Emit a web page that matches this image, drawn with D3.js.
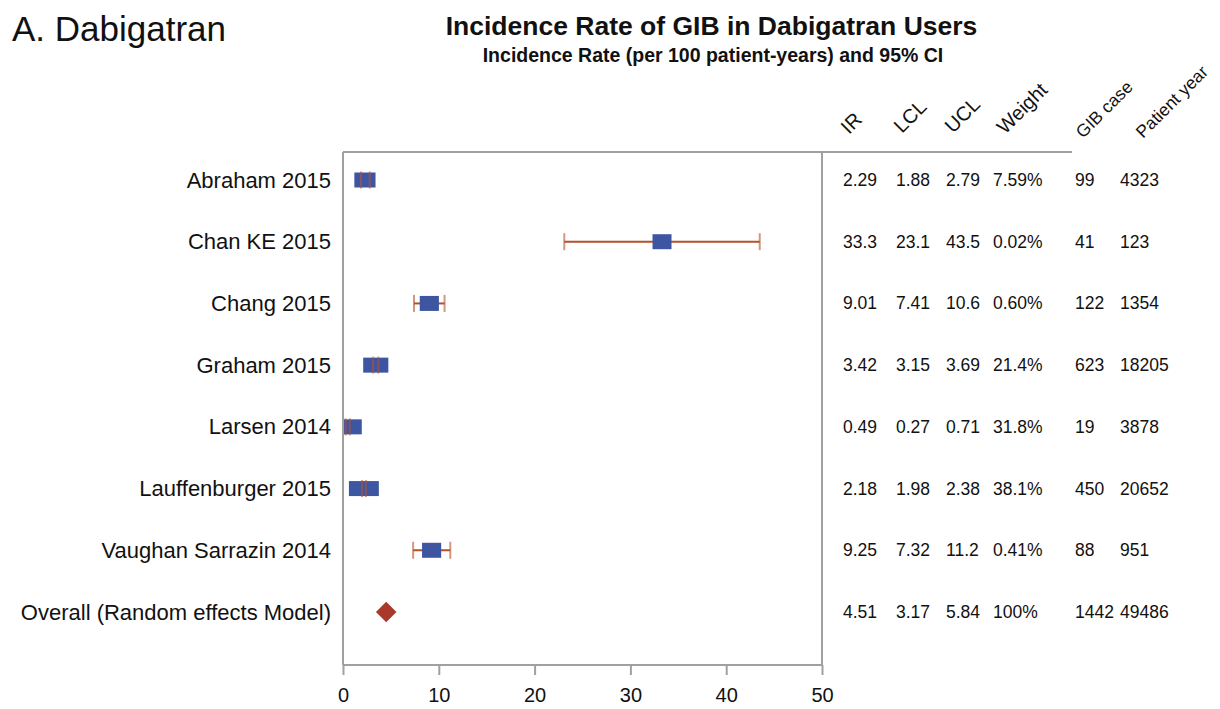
<!DOCTYPE html>
<html>
<head>
<meta charset="utf-8">
<script src="https://cdn.jsdelivr.net/npm/d3@7"></script>
<style>
  body { margin: 0; background: #fff; }
  text { font-family: "Liberation Sans", Arial, sans-serif; fill: #111; }
</style>
</head>
<body>
<svg width="1220" height="709"></svg>
<script>
// data
const studies = ['Abraham 2015', 'Chan KE 2015', 'Chang 2015', 'Graham 2015', 'Larsen 2014',
                 'Lauffenburger 2015', 'Vaughan Sarrazin 2014', 'Overall (Random effects Model)'];
const ir = [2.29, 33.3, 9.01, 3.42, 0.49, 2.18, 9.25, 4.51];
const lcl = [1.88, 23.1, 7.41, 3.15, 0.27, 1.98, 7.32, 3.17];
const ucl = [2.79, 43.5, 10.6, 3.69, 0.71, 2.38, 11.2, 5.84];
const weight = [7.59, 0.02, 0.60, 21.4, 31.8, 38.1, 0.41, 100];
const weightLabels = ['7.59%', '0.02%', '0.60%', '21.4%', '31.8%', '38.1%', '0.41%', '100%'];
const gibCases = [99, 41, 122, 623, 19, 450, 88, 1442];
const patientYears = [4323, 123, 1354, 18205, 3878, 20652, 951, 49486];
const xTicks = [0, 10, 20, 30, 40, 50];

const svg = d3.select('svg');
const plotL = 343, plotR = 822, plotT = 152, plotB = 665;

const x = d3.scaleLinear().domain([0, 50]).range([plotL, plotR]);
const y = d3.scalePoint().domain(studies).range([180, 612]);
const boxW = d3.scaleLinear().domain([0, 40]).range([19, 30.5]);

// titles
svg.append('text').attr('x', 12).attr('y', 41)
  .style('font-size', '35px').text('A. Dabigatran');
svg.append('text').attr('x', 711.5).attr('y', 35).attr('text-anchor', 'middle')
  .style('font-size', '26.5px').style('font-weight', 'bold')
  .text('Incidence Rate of GIB in Dabigatran Users');
svg.append('text').attr('x', 713).attr('y', 62).attr('text-anchor', 'middle')
  .style('font-size', '19.5px').style('font-weight', 'bold')
  .text('Incidence Rate (per 100 patient-years) and 95% CI');

// frame
const frame = svg.append('g').attr('stroke', '#a0a0a0').attr('stroke-width', 2).attr('fill', 'none');
frame.append('line').attr('x1', plotL).attr('x2', 1072).attr('y1', plotT).attr('y2', plotT);
frame.append('line').attr('x1', plotL).attr('x2', plotL).attr('y1', plotT).attr('y2', plotB);
frame.append('line').attr('x1', plotR).attr('x2', plotR).attr('y1', plotT).attr('y2', plotB);
frame.append('line').attr('x1', plotL).attr('x2', plotR).attr('y1', plotB).attr('y2', plotB);

// x axis
const axis = svg.append('g').attr('transform', `translate(0,${plotB})`)
  .call(d3.axisBottom(x).tickValues(xTicks).tickSize(10).tickPadding(13));
axis.select('.domain').remove();
axis.selectAll('line').attr('stroke', '#a0a0a0').attr('stroke-width', 2);
axis.selectAll('text').style('font-size', '20px')
  .style('font-family', '"Liberation Sans", Arial, sans-serif').attr('fill', '#111');

// row labels
svg.append('g').selectAll('text').data(studies).join('text')
  .attr('x', 331).attr('y', d => y(d) + 7.5).attr('text-anchor', 'end')
  .style('font-size', '22px').text(d => d);

svg.append('defs').append('clipPath').attr('id', 'plot')
  .append('rect').attr('x', plotL + 1).attr('y', plotT).attr('width', plotR - plotL - 1).attr('height', plotB - plotT);

const studyIdx = d3.range(studies.length - 1);
const marks = svg.append('g').attr('clip-path', 'url(#plot)');
const barColor = '#b4512b';

// CI whiskers
marks.selectAll('line.ci').data(studyIdx).join('line').attr('class', 'ci')
  .attr('x1', i => x(lcl[i])).attr('x2', i => x(ucl[i]))
  .attr('y1', i => y(studies[i])).attr('y2', i => y(studies[i]))
  .attr('stroke', barColor).attr('stroke-width', 2);

// weighted squares
marks.selectAll('rect.box').data(studyIdx).join('rect').attr('class', 'box')
  .attr('x', i => x(ir[i]) - boxW(weight[i]) / 2)
  .attr('y', i => y(studies[i]) - 7.5)
  .attr('width', i => boxW(weight[i])).attr('height', 15)
  .attr('fill', '#3e56a2');

// caps
[lcl, ucl].forEach(v => {
  marks.append('g').selectAll('line').data(studyIdx).join('line')
    .attr('x1', i => x(v[i])).attr('x2', i => x(v[i]))
    .attr('y1', i => y(studies[i]) - 8.5).attr('y2', i => y(studies[i]) + 8.5)
    .attr('stroke', barColor).attr('stroke-width', 2).attr('stroke-opacity', 0.6);
});

// overall diamond
const last = studies.length - 1;
marks.append('path')
  .attr('d', d3.symbol(d3.symbolSquare, 210)())
  .attr('transform', `translate(${x(ir[last])},${y(studies[last])}) rotate(45)`)
  .attr('fill', '#a8392b');

// table columns
const cols = [
  { head: 'IR', x: 843, hx: 849, hy: 135, hs: 20, vals: ir },
  { head: 'LCL', x: 896, hx: 902, hy: 134, hs: 20, vals: lcl },
  { head: 'UCL', x: 946, hx: 953, hy: 134, hs: 20, vals: ucl },
  { head: 'Weight', x: 993, hx: 1005, hy: 135, hs: 20, vals: weightLabels },
  { head: 'GIB case', x: 1075, hx: 1083, hy: 139, hs: 17.5, vals: gibCases },
  { head: 'Patient year', x: 1120, hx: 1143, hy: 139, hs: 17.5, vals: patientYears }
];
cols.forEach(c => {
  svg.append('text')
    .attr('transform', `translate(${c.hx},${c.hy}) rotate(-45)`)
    .style('font-size', c.hs + 'px').text(c.head);
  svg.append('g').selectAll('text').data(c.vals).join('text')
    .attr('x', c.x).attr('y', (d, i) => y(studies[i]) + 6)
    .style('font-size', '17.5px').text(d => d);
});
</script>
</body>
</html>
